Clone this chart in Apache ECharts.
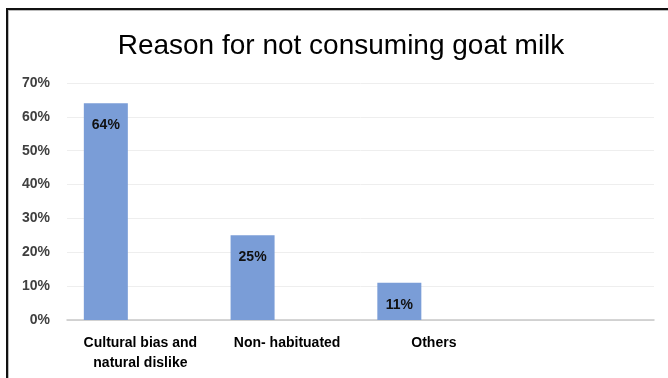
<!DOCTYPE html>
<html>
<head>
<meta charset="utf-8">
<script src="https://cdn.jsdelivr.net/npm/echarts@6/dist/echarts.min.js"></script>
<style>
html,body{margin:0;padding:0;background:#fff;}
#frame{position:absolute;left:6px;top:8px;width:662px;height:370px;border-left:2px solid #111;border-top:2px solid #111;box-shadow:inset 1px 1px 0 #bbb;}
#chart{position:absolute;left:0;top:0;width:668px;height:378px;}
</style>
</head>
<body>
<div id="frame"></div>
<div id="chart"></div>
<script>
const titleText = 'Reason for not consuming goat milk';
const categories = ['Cultural bias and\nnatural dislike', 'Non- habituated', 'Others', ''];
const values = [64, 25, 11, null];
const emptySeries = [null, null, null, null];
const yTicks = [0, 10, 20, 30, 40, 50, 60, 70];

const chart = echarts.init(document.getElementById('chart'), null, {renderer: 'canvas'});
chart.setOption({
  backgroundColor: 'transparent',
  animation: false,
  title: {
    text: titleText,
    left: 336,
    textAlign: 'center',
    top: 27,
    textStyle: {fontFamily: 'Liberation Sans', fontSize: 28, fontWeight: 'normal', color: '#000'}
  },
  grid: {left: 67, right: 14, top: 83, bottom: 58, containLabel: false},
  xAxis: {
    type: 'category',
    data: categories,
    axisLine: {lineStyle: {color: '#c8c8c8', width: 1.5}},
    axisTick: {show: false},
    axisLabel: {
      interval: 0,
      margin: 13,
      fontFamily: 'Liberation Sans',
      fontSize: 14,
      fontWeight: 'bold',
      color: '#000',
      lineHeight: 20
    }
  },
  yAxis: {
    type: 'value',
    min: yTicks[0],
    max: yTicks[yTicks.length - 1],
    interval: 10,
    axisLine: {show: false},
    axisTick: {show: false},
    splitLine: {lineStyle: {color: '#eeeeee', width: 1}},
    axisLabel: {
      margin: 17,
      formatter: '{value}%',
      fontFamily: 'Liberation Sans',
      fontSize: 14,
      fontWeight: 'bold',
      color: '#404040'
    }
  },
  series: [
    {
      type: 'bar',
      data: values,
      barWidth: 44,
      barGap: '57%',
      itemStyle: {color: '#7A9DD7'},
      label: {
        show: true,
        position: 'insideTop',
        distance: 15,
        formatter: '{c}%',
        fontFamily: 'Liberation Sans',
        fontSize: 14,
        fontWeight: 'bold',
        color: '#111'
      }
    },
    {
      type: 'bar',
      data: emptySeries,
      barWidth: 44,
      itemStyle: {color: '#7A9DD7'}
    }
  ]
});
</script>
</body>
</html>
